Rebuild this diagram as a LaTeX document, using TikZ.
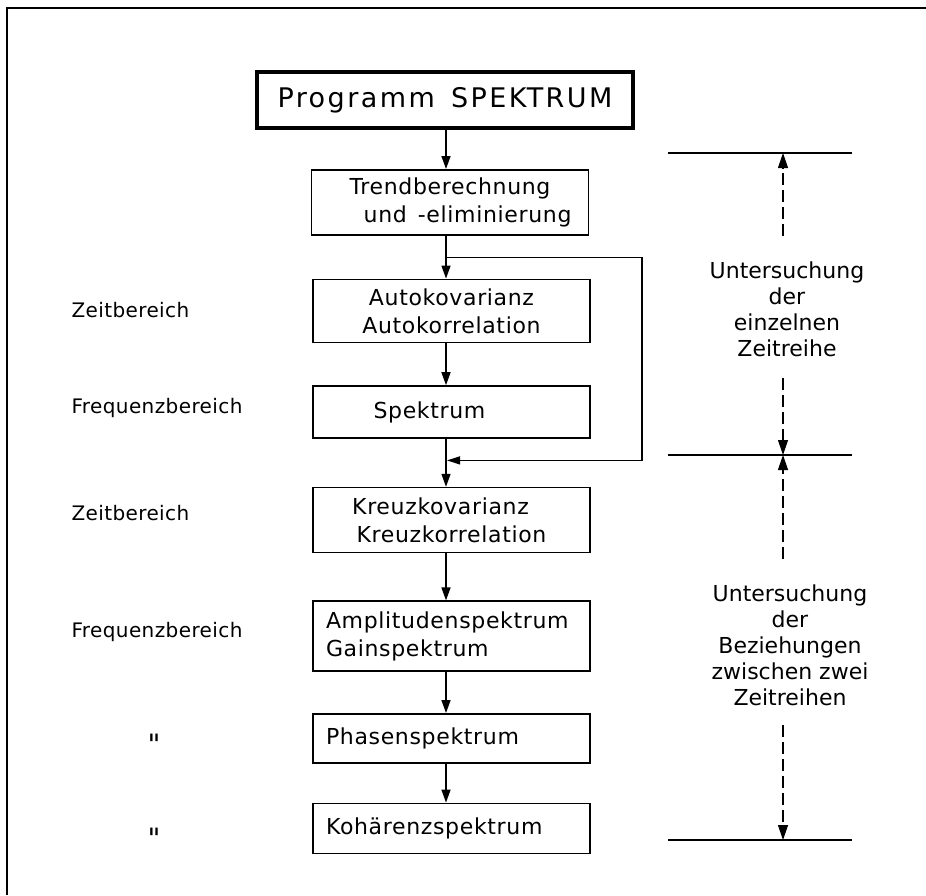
\documentclass[tikz,border=0pt]{standalone}
\usepackage{fontspec}
\setmainfont{DejaVu Sans}
\newfontfamily\boxfont{DejaVu Sans}[LetterSpace=3]
\newfontfamily\titlefont{DejaVu Sans}[LetterSpace=9]
\newfontfamily\sidefont{DejaVu Sans}[LetterSpace=2]
\newfontfamily\dittofont{DejaVu Sans}
\usetikzlibrary{arrows.meta, positioning, calc}
\tikzstyle{box} = [rectangle, draw=black, line width=1.6pt, minimum width=277pt,
    align=center, inner sep=0pt, font=\boxfont\fontsize{22}{28}\selectfont]
\tikzstyle{leftbox} = [box, text width=251pt, inner xsep=13pt, align=left]
\tikzstyle{titlebox} = [box, line width=4pt, minimum width=376pt,
    minimum height=56pt, font=\titlefont\fontsize{27}{30}\selectfont]
\tikzstyle{arrow} = [line width=1.5pt, -{Triangle[length=13pt,width=9pt]}]
\tikzstyle{loopline} = [line width=1.2pt, -{Triangle[length=13pt,width=8pt]}]
\tikzstyle{bereich} = [anchor=base west, font=\sidefont\fontsize{20}{24}\selectfont]
\tikzstyle{ditto} = [anchor=center, font=\dittofont\fontsize{28}{28}\selectfont]
\tikzstyle{dimline} = [line width=1.3pt]
\tikzstyle{dimarrow} = [line width=1.2pt, dash pattern=on 12pt off 5pt,
    -{Triangle[length=15pt,width=10pt]}]
\tikzstyle{dimtext} = [align=center, font=\fontsize{22}{26}\selectfont]

\begin{document}
\begin{tikzpicture}[x=1pt, y=-1pt]
  \useasboundingbox (0,0) rectangle (926,895);
  % Frame
  \draw[line width=2pt] (7,895) -- (7,8) -- (926,8);

  % Flow chart
  \node[titlebox](prog) at (445,100){Programm\hspace{0.6em}SPEKTRUM};
  \node[box, below=39pt of prog, xshift=5pt, minimum height=65pt](trend)
    {Trendberechnung\\\hspace*{1.6em}und\hspace{0.5em}-eliminierung};
  \node[box, below=43pt of trend, xshift=1.5pt, minimum height=63pt](auto)
    {Autokovarianz\\Autokorrelation};
  \node[box, below=42pt of auto, minimum height=52pt](spek)
    {Spektrum\hspace*{2em}};
  \node[box, below=48pt of spek, minimum height=65pt](kreuz)
    {Kreuzkovarianz\hspace*{1em}\\Kreuzkorrelation};
  \node[leftbox, below=47pt of kreuz, minimum height=70pt](amp)
    {Amplitudenspektrum\\Gainspektrum};
  \node[leftbox, below=41pt of amp, minimum height=49pt](phase)
    {Phasenspektrum};
  \node[leftbox, below=39pt of phase, minimum height=50pt](koh)
    {Kohärenzspektrum};

  % Main arrows
  \coordinate (spine) at (446,0);
  \draw[arrow](prog.south -| spine) -- (trend.north -| spine);
  \draw[arrow](trend.south -| spine) -- (auto.north -| spine);
  \draw[arrow](auto.south -| spine) -- (spek.north -| spine);
  \draw[arrow](spek.south -| spine) -- (kreuz.north -| spine);
  \draw[arrow](kreuz.south -| spine) -- (amp.north -| spine);
  \draw[arrow](amp.south -| spine) -- (phase.north -| spine);
  \draw[arrow](phase.south -| spine) -- (koh.north -| spine);

  % Bypass
  \coordinate (fork) at ($(trend.south -| spine)!0.5!(auto.north -| spine)$);
  \coordinate (join) at ($(spek.south -| spine)!0.45!(kreuz.north -| spine)$);
  \draw[loopline](fork) -- ++(196,0) |- ([xshift=1pt]join);

  % Domain labels
  \node[bereich](zb1) at (68,317){Zeitbereich};
  \node[bereich](fb1) at (68,413){Frequenzbereich};
  \node[bereich](zb2) at (68,520){Zeitbereich};
  \node[bereich](fb2) at (68,637){Frequenzbereich};
  \node[ditto](dit1) at (154,744){"};
  \node[ditto](dit2) at (154,838){"};

  % Dimension lines
  \coordinate (d1) at (783,153);
  \coordinate (d2) at (783,455);
  \coordinate (d3) at (783,840);
  \foreach \d in {d1,d2,d3}
    \draw[dimline]([xshift=-115pt]\d) -- ([xshift=69pt]\d);
  \node[dimtext](einzeln) at (787,309)
    {Untersuchung\\der\\einzelnen\\Zeitreihe};
  \node[dimtext](zwei) at (790,645)
    {Untersuchung\\der\\Beziehungen\\zwischen zwei\\Zeitreihen};
  \draw[dimarrow]([yshift=22pt]einzeln.north -| d1) -- (d1);
  \draw[dimarrow]([yshift=-18pt]einzeln.south -| d1) -- (d2);
  \draw[dimarrow]([yshift=22pt]zwei.north -| d2) -- (d2);
  \draw[dimarrow]([yshift=-16pt]zwei.south -| d2) -- (d3);
\end{tikzpicture}
\end{document}
